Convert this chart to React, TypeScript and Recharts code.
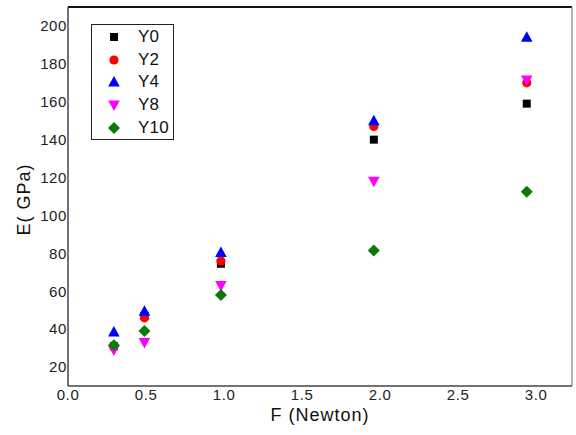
import React from 'react';
import { ScatterChart, Scatter, XAxis, YAxis, Legend, ReferenceLine, Label } from 'recharts';

const forces = [0.294, 0.49, 0.98, 1.96, 2.94];
const y0Values = [31, 47, 74.5, 140, 159];
const y2Values = [31, 46, 76, 147, 170];
const y4Values = [38.5, 49.5, 80.5, 150, 194];
const y8Values = [29, 33, 63, 118, 171.5];
const y10Values = [31.5, 39, 58, 81.5, 112.5];
const xTicks = [0, 0.5, 1.0, 1.5, 2.0, 2.5, 3.0];
const yTicks = [20, 40, 60, 80, 100, 120, 140, 160, 180, 200];

const toPoints = (vals: number[]) => forces.map((x, i) => ({ x, y: vals[i] }));

const FONT = '"Liberation Sans", Arial, sans-serif';

const Square = (p: any) => <rect x={p.cx - 4} y={p.cy - 4} width={8} height={8} fill="#000000" />;
const Dot = (p: any) => <circle cx={p.cx} cy={p.cy} r={4.6} fill="#ff0000" />;
const TriUp = (p: any) => (
  <polygon points={`${p.cx},${p.cy - 6} ${p.cx + 5.8},${p.cy + 4.5} ${p.cx - 5.8},${p.cy + 4.5}`} fill="#0000ff" />
);
const TriDown = (p: any) => (
  <polygon points={`${p.cx},${p.cy + 6} ${p.cx + 5.8},${p.cy - 4.5} ${p.cx - 5.8},${p.cy - 4.5}`} fill="#ff00ff" />
);
const Diamond = (p: any) => (
  <polygon points={`${p.cx},${p.cy - 6} ${p.cx + 6},${p.cy} ${p.cx},${p.cy + 6} ${p.cx - 6},${p.cy}`} fill="#0b7a0b" />
);

const series = [
  { name: 'Y0', values: y0Values, shape: Square },
  { name: 'Y2', values: y2Values, shape: Dot },
  { name: 'Y4', values: y4Values, shape: TriUp },
  { name: 'Y8', values: y8Values, shape: TriDown },
  { name: 'Y10', values: y10Values, shape: Diamond },
];

const LegendBox = () => (
  <div
    style={{
      width: 81,
      height: 113,
      border: '1px solid #222',
      background: '#fff',
      fontFamily: FONT,
      fontSize: 17,
      color: '#111',
      paddingTop: 1,
      boxSizing: 'content-box',
    }}
  >
    {series.map((s) => {
      const Shape = s.shape;
      return (
        <div key={s.name} style={{ display: 'flex', alignItems: 'center', height: 22.6 }}>
          <svg width={14} height={14} style={{ marginLeft: 15 }}>
            <Shape cx={7} cy={7} />
          </svg>
          <span style={{ marginLeft: 17, letterSpacing: 0.2 }}>{s.name}</span>
        </div>
      );
    })}
  </div>
);

export default function App() {
  return (
    <div style={{ position: 'absolute', left: 0, top: 0, background: '#fff' }}>
      <ScatterChart width={576} height={435} margin={{ top: 7, right: 4, bottom: 0, left: 8 }}>
        <XAxis
          dataKey="x"
          type="number"
          domain={[0, 3.23]}
          ticks={xTicks}
          allowDataOverflow
          tickFormatter={(v: number) => v.toFixed(1)}
          tickLine={false}
          tickSize={0}
          tickMargin={3}
          height={49}
          stroke="#444"
          strokeWidth={1.5}
          tick={{ fill: '#222', fontSize: 15, fontFamily: FONT, letterSpacing: 0.6 }}
        >
          <Label
            value="F (Newton)"
            position="insideBottom"
            offset={14}
            style={{ fill: '#111', fontSize: 18, fontFamily: FONT, letterSpacing: 1 }}
          />
        </XAxis>
        <YAxis
          dataKey="y"
          type="number"
          domain={[10, 210]}
          ticks={yTicks}
          allowDataOverflow
          tickLine={false}
          tickSize={0}
          tickMargin={1}
          width={60}
          stroke="#444"
          strokeWidth={1.5}
          tick={{ fill: '#222', fontSize: 15, fontFamily: FONT, letterSpacing: 0.6 }}
        >
          <Label
            value="E( GPa)"
            angle={-90}
            position="insideLeft"
            offset={0}
            content={(props: any) => {
              const vb = props.viewBox || { x: 8, y: 7, width: 60, height: 379 };
              const cx = 24;
              const cy = vb.y + vb.height / 2 + 3;
              return (
                <text
                  x={cx}
                  y={cy}
                  transform={`rotate(-90, ${cx}, ${cy})`}
                  textAnchor="middle"
                  dominantBaseline="central"
                  style={{ fill: '#111', fontSize: 18, fontFamily: FONT, letterSpacing: 1 }}
                >
                  E( GPa)
                </text>
              );
            }}
          />
        </YAxis>
        <ReferenceLine y={210} stroke="#111" strokeWidth={2} />
        <ReferenceLine x={3.23} stroke="#999" strokeWidth={1.5} />
        {series.map((s) => (
          <Scatter
            key={s.name}
            name={s.name}
            data={toPoints(s.values)}
            shape={s.shape}
            isAnimationActive={false}
          />
        ))}
        <Legend
          layout="vertical"
          align="center"
          verticalAlign="middle"
          wrapperStyle={{ left: 91, top: 24, width: 83, height: 115, right: 'auto', bottom: 'auto' }}
          content={() => <LegendBox />}
        />
      </ScatterChart>
    </div>
  );
}
